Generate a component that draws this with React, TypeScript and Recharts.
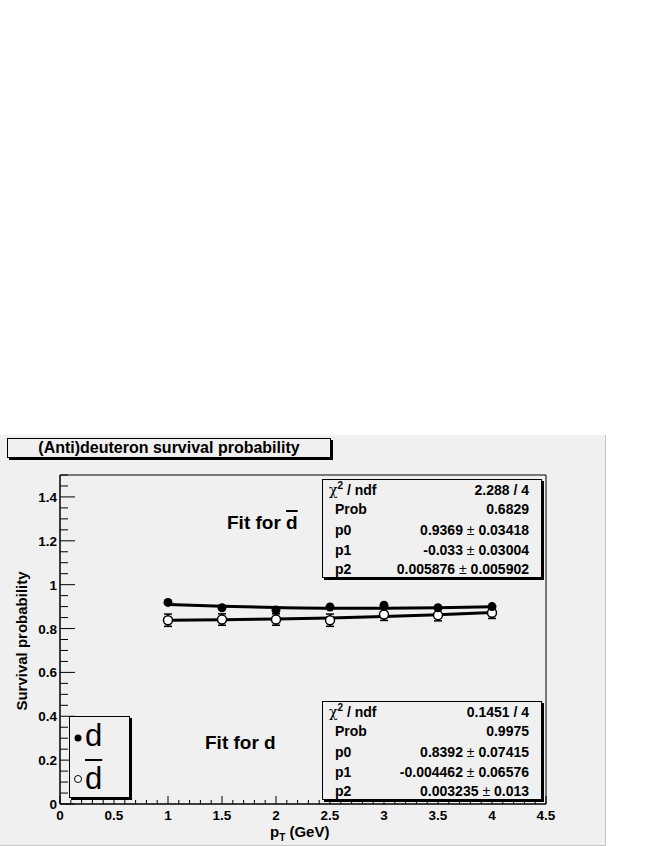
import { ComposedChart, Scatter, Line, XAxis, YAxis, ErrorBar, ReferenceArea } from 'recharts'

const pt = [1, 1.5, 2, 2.5, 3, 3.5, 4]
const filledVals = [0.919, 0.895, 0.884, 0.898, 0.906, 0.895, 0.9]
const openVals = [0.838, 0.841, 0.841, 0.838, 0.864, 0.861, 0.872]
const openErr = [0.028, 0.026, 0.026, 0.028, 0.027, 0.026, 0.026]
// fit curves at each pT
const fitUpper = [0.91, 0.902, 0.896, 0.893, 0.893, 0.895, 0.899]
const fitLower = [0.838, 0.84, 0.843, 0.848, 0.855, 0.863, 0.873]

const xLabels = [0, 0.5, 1, 1.5, 2, 2.5, 3, 3.5, 4, 4.5]
const yLabels = [0, 0.2, 0.4, 0.6, 0.8, 1, 1.2, 1.4]

const statsDbar = [
  ['chi', '2.288 / 4'],
  ['Prob', '0.6829'],
  ['p0', '0.9369 ± 0.03418'],
  ['p1', '-0.033 ± 0.03004'],
  ['p2', '0.005876 ± 0.005902'],
]
const statsD = [
  ['chi', '0.1451 / 4'],
  ['Prob', '0.9975'],
  ['p0', '0.8392 ± 0.07415'],
  ['p1', '-0.004462 ± 0.06576'],
  ['p2', '0.003235 ± 0.013'],
]

const FONT = "'Liberation Sans', Arial, sans-serif"
const BG = '#f0f0f0'

const steps = (max: number, step: number) =>
  Array.from({ length: Math.round(max / step) + 1 }, (_, i) => +(i * step).toFixed(2))
const xTicks = steps(4.5, 0.1)
const yTicks = steps(1.5, 0.05)

const filled = pt.map((x, i) => ({ x, y: filledVals[i] }))
const open = pt.map((x, i) => ({ x, y: openVals[i], err: openErr[i] }))
const upper = pt.map((x, i) => ({ x, y: fitUpper[i] }))
const lower = pt.map((x, i) => ({ x, y: fitLower[i] }))

function YTick({ x, y, payload }: any) {
  const major = yLabels.includes(payload.value)
  return (
    <g>
      <line x1={x} x2={x + (major ? 15 : 8)} y1={y} y2={y} stroke="#000" />
      {major && (
        <text x={x - 3} y={y + 5} textAnchor="end" fontSize={13.5} fontWeight="bold" fontFamily={FONT}>
          {payload.value}
        </text>
      )}
    </g>
  )
}

function XTick({ x, y, payload }: any) {
  const major = xLabels.includes(payload.value)
  return (
    <g>
      <line x1={x} x2={x} y1={y} y2={y - (major ? 8 : 4)} stroke="#000" />
      {major && (
        <text x={x} y={y + 16} textAnchor="middle" fontSize={13.5} fontWeight="bold" fontFamily={FONT}>
          {payload.value}
        </text>
      )}
    </g>
  )
}

function StatsBox({ top, rows }: { top: number; rows: string[][] }) {
  const rowY = [10, 29, 50, 70, 89]
  return (
    <div
      style={{
        position: 'absolute', left: 322, top, width: 218, height: 97,
        border: '1px solid #000', boxShadow: '2px 2px 0 #000', background: BG,
      }}
    >
      {rows.map(([name, val], i) => (
        <div
          key={name}
          style={{
            position: 'absolute', left: 0, right: 0, top: rowY[i] - 9, height: 18,
            fontSize: 14, fontWeight: 'bold', lineHeight: '18px',
          }}
        >
          <span style={{ position: 'absolute', left: i === 0 ? 6 : 12 }}>
            {name === 'chi' ? (
              <>
                <span style={{ fontWeight: 'normal', fontFamily: "'DejaVu Serif', serif" }}>χ</span>
                <sup style={{ fontSize: 10, lineHeight: 0 }}>2</sup> / ndf
              </>
            ) : (
              name
            )}
          </span>
          <span style={{ position: 'absolute', right: 12 }}>
            {val.split('±').map((part, j) =>
              j === 0 ? (
                <span key={j}>{part}</span>
              ) : (
                <span key={j}>
                  <span style={{ fontWeight: 'normal' }}>±</span>
                  {part}
                </span>
              )
            )}
          </span>
        </div>
      ))}
    </div>
  )
}

export default function App() {
  return (
    <div style={{ position: 'absolute', left: 0, top: 0, width: 654, height: 846, background: '#fff', fontFamily: FONT }}>
      <div
        style={{
          position: 'absolute', left: 0, top: 435, width: 605, height: 410, background: BG,
          borderRight: '1px solid #c4c4c4', borderBottom: '1px solid #c4c4c4',
        }}
      >
        <ComposedChart width={606} height={410} margin={{ top: 40, right: 60, bottom: 0, left: 0 }}>
          <XAxis
            type="number" dataKey="x" domain={[0, 4.5]} ticks={xTicks} interval={0}
            tickSize={0} tickMargin={0} tick={<XTick />} height={41} stroke="#000" allowDataOverflow
          />
          <YAxis
            type="number" dataKey="y" domain={[0, 1.5]} ticks={yTicks} interval={0}
            tickSize={0} tickMargin={0} tick={<YTick />} width={60} stroke="#000" allowDataOverflow
          />
          <ReferenceArea x1={0} x2={4.5} y1={0} y2={1.5} fill="none" stroke="#000" strokeWidth={1} fillOpacity={0} />
          <Line data={upper} dataKey="y" type="monotone" stroke="#000" strokeWidth={3} dot={false} isAnimationActive={false} />
          <Line data={lower} dataKey="y" type="monotone" stroke="#000" strokeWidth={3} dot={false} isAnimationActive={false} />
          <Scatter
            data={open}
            isAnimationActive={false}
            shape={(p: any) => <circle cx={p.cx} cy={p.cy} r={4.5} fill="#fff" stroke="#000" strokeWidth={1.5} />}
          >
            <ErrorBar dataKey="err" direction="y" width={4} stroke="#000" strokeWidth={1.5} />
          </Scatter>
          <Scatter
            data={filled}
            isAnimationActive={false}
            shape={(p: any) => <circle cx={p.cx} cy={p.cy} r={4.5} fill="#000" />}
          />
        </ComposedChart>
      </div>

      {/* title box */}
      <div
        style={{
          position: 'absolute', left: 7, top: 438, width: 322, height: 18, background: BG,
          border: '1px solid #000', boxShadow: '2px 2px 0 #000', textAlign: 'center',
          fontSize: 16, fontWeight: 'bold', lineHeight: '18px',
        }}
      >
        (Anti)deuteron survival probability
      </div>

      {/* axis titles */}
      <div
        style={{
          position: 'absolute', left: 21, top: 641, transform: 'translate(-50%, -50%) rotate(-90deg)',
          whiteSpace: 'nowrap', fontSize: 15, fontWeight: 'bold',
        }}
      >
        Survival probability
      </div>
      <div
        style={{
          position: 'absolute', left: 270, top: 824, fontSize: 15, lineHeight: '15px',
          fontWeight: 'bold', whiteSpace: 'nowrap',
        }}
      >
        p<sub style={{ fontSize: 10, lineHeight: 0 }}>T</sub> (GeV)
      </div>

      <StatsBox top={479} rows={statsDbar} />
      <StatsBox top={701} rows={statsD} />

      {/* fit labels */}
      <div style={{ position: 'absolute', left: 227, top: 512, fontSize: 19, fontWeight: 'bold', whiteSpace: 'nowrap' }}>
        Fit for <span style={{ textDecoration: 'overline', textDecorationThickness: 1.5 }}>d</span>
      </div>
      <div style={{ position: 'absolute', left: 205, top: 732, fontSize: 19, fontWeight: 'bold', whiteSpace: 'nowrap' }}>
        Fit for d
      </div>

      {/* legend */}
      <div
        style={{
          position: 'absolute', left: 69, top: 716, width: 59, height: 80, background: BG,
          border: '1px solid #000', boxShadow: '2px 2px 0 #000',
        }}
      >
        <svg width={20} height={80} style={{ position: 'absolute', left: 0, top: 0 }}>
          <circle cx={8} cy={21} r={3.5} fill="#000" />
          <circle cx={8} cy={62} r={3.5} fill="#fff" stroke="#000" strokeWidth={1} />
        </svg>
        <div style={{ position: 'absolute', left: 15, top: 4, fontSize: 31, lineHeight: '30px' }}>d</div>
        <div
          style={{
            position: 'absolute', left: 15, top: 47, fontSize: 31, lineHeight: '30px',
            textDecoration: 'overline', textDecorationThickness: 1.5,
          }}
        >
          d
        </div>
      </div>
    </div>
  )
}
